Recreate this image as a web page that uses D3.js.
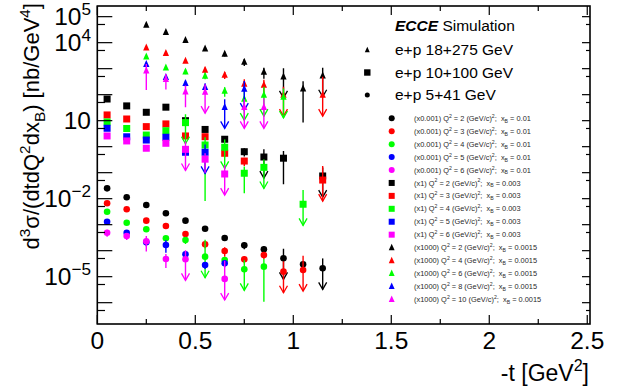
<!DOCTYPE html>
<html><head><meta charset="utf-8">
<script src="https://cdn.jsdelivr.net/npm/d3@7"></script>
<style>
body{margin:0;background:#fff}
svg{display:block}
text{font-family:"Liberation Sans",Arial,Helvetica,sans-serif}
</style>
</head><body>
<svg id="c" width="618" height="388"></svg>
<script>
// -t bin centres
const tBins = [0.05,0.15,0.25,0.35,0.45,0.55,0.65,0.75,0.85,0.95,1.05,1.15];

// e+p 5+41 GeV (x0.001), x_B = 0.01
const circQ2_2 = [0.025,0.0113,0.00573,0.00274,1.43e-3,7.0e-4,3.08e-4,1.61e-4,1.13e-4,5.1e-5,3.0e-5,2.1e-5];
const circQ2_2err = [0.05,0.05,0.05,0.05,0.1,0.15,0.2,0.3,0.3,1.3,0.3,1.4];
const circQ2_3 = [6.65e-3,3.9e-3,1.43e-3,8.9e-4,4.4e-4,1.76e-4,9.7e-5,4.67e-5,6.8e-5,1.56e-5,1.81e-5,null];
const circQ2_3err = [0.05,0.05,0.05,0.1,0.2,0.3,0.4,0.3,0.3,1.5,2.5,null];
const circQ2_4 = [3.16e-3,1.19e-3,6.65e-4,3.0e-4,2.58e-4,5.9e-5,4.4e-5,1.93e-5,2.43e-5,null,null,null];
const circQ2_4err = [0.05,0.05,0.1,0.15,0.3,3.5,0.3,1.2,0.955,null,null,null];
const circQ2_5 = [1.3e-3,4.9e-4,2.1e-4,1.66e-4,7.3e-5,2.82e-5,3.27e-5,null,null,null,null,null];
const circQ2_5err = [0.05,0.1,0.3,0.5,0.3,0.3,0.3,null,null,null,null,null];
const circQ2_6 = [4.92e-4,3.67e-4,2.3e-4,4.8e-5,4.7e-5,null,8.2e-6,null,null,null,null,null];
const circQ2_6err = [0.3,0.3,0.6,0.55,1.2,null,4,null,null,null,null,null];

// e+p 10+100 GeV (x1), x_B = 0.003
const sqQ2_2 = [68,37,21,33,10,4.6,1.93,0.64,0.40,0.36,null,0.0746];
const sqQ2_2err = [0.05,0.05,0.05,0.05,0.1,0.15,0.2,0.35,1.0,0.9,null,1.1];
const sqQ2_3 = [16.6,11.6,5.9,7.5,2.58,2.42,0.557,0.28,null,null,null,0.052];
const sqQ2_3err = [0.05,0.05,0.05,0.1,0.15,0.15,0.3,0.35,null,null,null,2.5];
const sqQ2_4 = [8.9,5.0,2.8,4.1,8.4,1.16,0.95,0.095,0.16,null,0.0061,null];
const sqQ2_4err = [0.05,0.05,0.1,0.1,1.1,0.993,1.0,0.83,1.0,null,2.5,null];
const sqQ2_5 = [5.1,2.4,1.8,2.3,0.61,0.61,null,null,null,null,null,null];
const sqQ2_5err = [0.05,0.05,0.1,0.1,0.2,1.0,null,null,null,null,null,null];
const sqQ2_6 = [2.58,1.66,0.87,1.35,0.79,0.33,0.089,null,null,null,null,null];
const sqQ2_6err = [0.1,0.1,0.15,0.15,1.0,0.7,1.2,null,null,null,null,null];

// e+p 18+275 GeV (x1000), x_B = 0.0015
const triQ2_2 = [null,null,4.8e4,2.5e4,1.24e4,5.9e3,3.7e3,1.8e3,750,490,170,540];
const triQ2_2err = [null,null,0.1,0.1,0.15,0.15,0.2,0.3,0.45,1.1,0.95,1.0];
const triQ2_4 = [null,null,6.4e3,3.9e3,2.0e3,890,570,260,236,97,null,97];
const triQ2_4err = [null,null,0.15,0.1,0.15,0.25,0.3,0.5,0.6,1.1,null,4];
const triQ2_6 = [null,null,2.9e3,1.09e3,767,524,139,68,97,82,null,null];
const triQ2_6err = [null,null,0.15,0.15,0.2,0.25,0.4,1.0,1.1,1.1,null,null];
const triQ2_8 = [null,null,1.5e3,467,274,193,33,166,null,null,null,null];
const triQ2_8err = [null,null,0.15,0.2,0.25,0.4,1.0,1.0,null,null,null,null];
const triQ2_10 = [null,null,838,391,130,126,null,33,33,null,null,null];
const triQ2_10err = [null,null,0.82,0.6,0.75,1.0,null,1.0,1.2,null,null,null];

// axis ticks
const xTickLabels = ["0","0.5","1","1.5","2","2.5"];
const xTickValues = [0,0.5,1,1.5,2,2.5];
const yLabelExps = [5,4,1,-2,-5];

const colors = ["#000000","#ff0000","#00ff00","#0000ff","#ff00ff"];
const series = [
  {m:"circle",c:colors[0],v:circQ2_2,e:circQ2_2err,pre:"(x0.001)",q:"2",xb:"0.01"},
  {m:"circle",c:colors[1],v:circQ2_3,e:circQ2_3err,pre:"(x0.001)",q:"3",xb:"0.01"},
  {m:"circle",c:colors[2],v:circQ2_4,e:circQ2_4err,pre:"(x0.001)",q:"4",xb:"0.01"},
  {m:"circle",c:colors[3],v:circQ2_5,e:circQ2_5err,pre:"(x0.001)",q:"5",xb:"0.01"},
  {m:"circle",c:colors[4],v:circQ2_6,e:circQ2_6err,pre:"(x0.001)",q:"6",xb:"0.01"},
  {m:"square",c:colors[0],v:sqQ2_2,e:sqQ2_2err,pre:"(x1)",q:"2",xb:"0.003"},
  {m:"square",c:colors[1],v:sqQ2_3,e:sqQ2_3err,pre:"(x1)",q:"3",xb:"0.003"},
  {m:"square",c:colors[2],v:sqQ2_4,e:sqQ2_4err,pre:"(x1)",q:"4",xb:"0.003"},
  {m:"square",c:colors[3],v:sqQ2_5,e:sqQ2_5err,pre:"(x1)",q:"5",xb:"0.003"},
  {m:"square",c:colors[4],v:sqQ2_6,e:sqQ2_6err,pre:"(x1)",q:"6",xb:"0.003"},
  {m:"triangle",c:colors[0],v:triQ2_2,e:triQ2_2err,pre:"(x1000)",q:"2",xb:"0.0015"},
  {m:"triangle",c:colors[1],v:triQ2_4,e:triQ2_4err,pre:"(x1000)",q:"4",xb:"0.0015"},
  {m:"triangle",c:colors[2],v:triQ2_6,e:triQ2_6err,pre:"(x1000)",q:"6",xb:"0.0015"},
  {m:"triangle",c:colors[3],v:triQ2_8,e:triQ2_8err,pre:"(x1000)",q:"8",xb:"0.0015"},
  {m:"triangle",c:colors[4],v:triQ2_10,e:triQ2_10err,pre:"(x1000)",q:"10",xb:"0.0015"}
];

const svg = d3.select("#c");
const L = 97.3, R = 590, T = 6, B = 324;
const x = d3.scaleLinear().domain([0, 2.514]).range([L, R]);
const y = d3.scaleLog().domain([Math.pow(10,-6.82), Math.pow(10,5.41)]).range([B, T]);

function rich(sel, segs, fs){
  let shift = 0;
  segs.forEach(([s,type])=>{
    const ts = sel.append("tspan").text(s);
    let target = 0;
    if(type==="sup"){ts.attr("font-size",fs*0.7); target = -0.42*fs;}
    else if(type==="sub"){ts.attr("font-size",fs*0.7); target = 0.25*fs;}
    ts.attr("dy", target-shift);
    shift = target;
  });
}

function marker(g, type, cx, cy, size, color){
  if(type==="circle") g.append("circle").attr("cx",cx).attr("cy",cy).attr("r",size/2).attr("fill",color);
  else if(type==="square") g.append("rect").attr("x",cx-size/2).attr("y",cy-size/2).attr("width",size).attr("height",size).attr("fill",color);
  else {
    const w = size*0.9, h = size;
    g.append("path").attr("d",`M${cx},${cy-h*0.6}L${cx+w/2},${cy+h*0.4}L${cx-w/2},${cy+h*0.4}Z`).attr("fill",color);
  }
}

// clip
svg.append("defs").append("clipPath").attr("id","fr").append("rect")
  .attr("x",L).attr("y",T).attr("width",R-L).attr("height",B-T);

const plot = svg.append("g").attr("clip-path","url(#fr)");
const ymin = y.domain()[0];
series.forEach(s=>{
  const g = plot.append("g");
  s.v.forEach((v,i)=>{
    if(v==null) return;
    const r = s.e[i];
    const cx = x(tBins[i]);
    const hi = v*(1+r);
    const arrow = r>=1;
    const lo = arrow ? v/6.5 : Math.max(v*(1-r), ymin);
    g.append("line").attr("x1",cx).attr("x2",cx).attr("y1",y(hi)).attr("y2",y(lo))
      .attr("stroke",s.c).attr("stroke-width",1.4);
    if(arrow){
      const yl = y(lo);
      g.append("path").attr("d",`M${cx-4},${yl-7}L${cx},${yl}L${cx+4},${yl-7}`)
        .attr("fill","none").attr("stroke",s.c).attr("stroke-width",1.3);
    }
  });
  s.v.forEach((v,i)=>{
    if(v==null) return;
    const sz = s.m==="circle"?6.6:(s.m==="square"?7:7);
    marker(g, s.m, x(tBins[i]), y(v), sz, s.c);
  });
});

// frame
const ax = svg.append("g").attr("stroke","#000").attr("fill","none");
ax.append("rect").attr("x",L).attr("y",T).attr("width",R-L).attr("height",B-T).attr("stroke-width",1.6);
// x ticks
d3.range(0, 2.51, 0.25).forEach(t=>{
  const major = Math.abs(t/0.5 - Math.round(t/0.5))<1e-6;
  const len = major?9:5;
  const px = x(t);
  ax.append("line").attr("x1",px).attr("x2",px).attr("y1",B).attr("y2",B-len).attr("stroke-width",1.2);
  ax.append("line").attr("x1",px).attr("x2",px).attr("y1",T).attr("y2",T+len).attr("stroke-width",1.2);
});
// y ticks
for(let e=-7;e<=5;e++){
  [[Math.pow(10,e),true],[5*Math.pow(10,e),false]].forEach(([v,major])=>{
    if(v<y.domain()[0]||v>y.domain()[1]) return;
    const py = y(v);
    ax.append("line").attr("x1",L).attr("x2",L+(major?15:7.7)).attr("y1",py).attr("y2",py).attr("stroke-width",1.2);
    ax.append("line").attr("x1",R).attr("x2",R-(major?8:4)).attr("y1",py).attr("y2",py).attr("stroke-width",1.2);
  });
}

// x tick labels
xTickValues.forEach((t,i)=>{
  svg.append("text").attr("x",x(t)).attr("y",349).attr("text-anchor","middle")
    .attr("font-size",24.5).text(xTickLabels[i]);
});
// y tick labels
yLabelExps.forEach(e=>{
  const t = svg.append("text").attr("x",91).attr("y",y(Math.pow(10,e))+8.6)
    .attr("text-anchor","end").attr("font-size",24.5);
  if(e===1) rich(t,[["10"]],24.5);
  else rich(t,[["10"],[e<0?"\u2212"+(-e):String(e),"sup"]],24.5);
});

// axis titles
const xt = svg.append("text").attr("x",589).attr("y",381).attr("text-anchor","end").attr("font-size",23);
rich(xt,[["-t [GeV"],["2","sup"],["]"]],23);
const yt = svg.append("text").attr("transform","translate(39,3) rotate(-90)").attr("text-anchor","end").attr("font-size",22);
rich(yt,[["d"],["3","sup"],["\u03c3/(dtdQ"],["2","sup"],["dx"],["B","sub"],[") [nb/GeV"],["4","sup"],["]"]],22);

// main legend
const lg = svg.append("g");
const et = lg.append("text").attr("x",395).attr("y",31).attr("font-size",15.5);
et.append("tspan").attr("font-weight","bold").attr("font-style","italic").text("ECCE");
et.append("tspan").text(" Simulation");
const beams = [["triangle","e+p 18+275 GeV",55],["square","e+p 10+100 GeV",77.5],["circle","e+p 5+41 GeV",100]];
beams.forEach(([m,label,by])=>{
  marker(lg, m, 367.3, by-5, m==="square"?6.4:(m==="circle"?5:5.5), "#000");
  lg.append("text").attr("x",395).attr("y",by).attr("font-size",15.5).text(label);
});

// series legend
const sl = svg.append("g");
series.forEach((s,i)=>{
  const cy = 118.3 + i*12.93;
  marker(sl, s.m, 391.7, cy, s.m==="circle"?6:(s.m==="square"?6:6.5), s.c);
  const tx = sl.append("text").attr("x",414).attr("y",cy+2.6).attr("font-size",7.4).attr("fill","#2a2a2a");
  rich(tx,[[s.pre+" Q"],["2","sup"],[" = "+s.q+" (GeV/c)"],["2","sup"],[";\u00a0\u00a0x"],["B","sub"],[" = "+s.xb]],7.4);
});
</script>
</body></html>
